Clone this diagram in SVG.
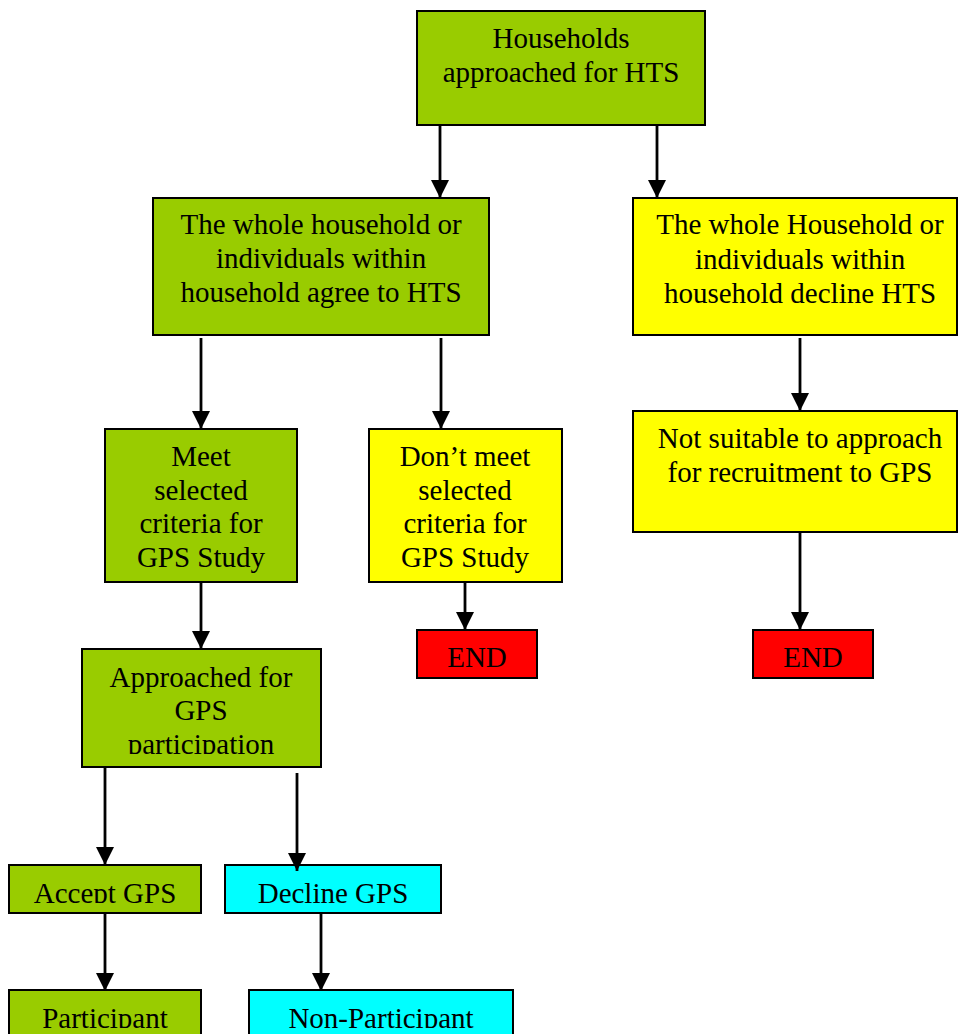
<svg xmlns="http://www.w3.org/2000/svg" width="958" height="1034" viewBox="0 0 958 1034">
<style>
.box{stroke:#000;stroke-width:2}
.g{fill:#99CC00}.y{fill:#FFFF00}.r{fill:#FF0000}.c{fill:#00FFFF}
text{font-family:"Liberation Serif","Times New Roman",serif;font-size:29px;fill:#000;text-anchor:middle}
.conn line{stroke:#000;stroke-width:2.8}
</style>
<defs>
<marker id="ah" markerUnits="userSpaceOnUse" markerWidth="19" markerHeight="18" refX="18" refY="9" orient="auto" viewBox="0 0 19 18">
<path d="M0,0 L18,9 L0,18 Z" fill="#000"/>
</marker>
<clipPath id="cpA"><rect x="0" y="860" width="958" height="43"/></clipPath>
<clipPath id="cpP"><rect x="0" y="985" width="958" height="43"/></clipPath>
<clipPath id="cpAp"><rect x="0" y="730" width="958" height="24"/></clipPath>
</defs>
<g id="n1"><rect class="box g" x="417" y="11" width="288" height="114"/>
<text x="561" y="48">Households</text><text x="561" y="82">approached for HTS</text></g>
<g id="n2"><rect class="box g" x="153" y="198" width="336" height="137"/>
<text x="321" y="234">The whole household or</text><text x="321" y="268">individuals within</text><text x="321" y="302">household agree to HTS</text></g>
<g id="n3"><rect class="box y" x="633" y="198" width="324" height="137"/>
<text x="800" y="234">The whole Household or</text><text x="800" y="269">individuals within</text><text x="800" y="303">household decline HTS</text></g>
<g id="n4"><rect class="box g" x="105" y="429" width="192" height="153"/>
<text x="201" y="466">Meet</text><text x="201" y="500">selected</text><text x="201" y="533">criteria for</text><text x="201" y="567">GPS Study</text></g>
<g id="n5"><rect class="box y" x="369" y="429" width="193" height="153"/>
<text x="465" y="466">Don’t meet</text><text x="465" y="500">selected</text><text x="465" y="533">criteria for</text><text x="465" y="567">GPS Study</text></g>
<g id="n6"><rect class="box y" x="633" y="411" width="324" height="121"/>
<text x="800" y="448">Not suitable to approach</text><text x="800" y="482">for recruitment to GPS</text></g>
<g id="n7"><rect class="box r" x="417" y="630" width="120" height="48"/>
<text x="477" y="667">END</text></g>
<g id="n8"><rect class="box r" x="753" y="630" width="120" height="48"/>
<text x="813" y="667">END</text></g>
<g id="n9"><rect class="box g" x="82" y="649" width="239" height="118"/>
<text x="201" y="687">Approached for</text><text x="201" y="720">GPS</text><text x="201" y="754" clip-path="url(#cpAp)">participation</text></g>
<g id="n10"><rect class="box g" x="9" y="865" width="192" height="48"/>
<text x="105" y="903" clip-path="url(#cpA)">Accept GPS</text></g>
<g id="n11"><rect class="box c" x="225" y="865" width="216" height="48"/>
<text x="333" y="903" clip-path="url(#cpA)">Decline GPS</text></g>
<g id="n12"><rect class="box g" x="9" y="990" width="192" height="60"/>
<text x="105" y="1028" clip-path="url(#cpP)">Participant</text></g>
<g id="n13"><rect class="box c" x="249" y="990" width="264" height="60"/>
<text x="381" y="1028" clip-path="url(#cpP)">Non-Participant</text></g>
<g class="conn" id="connectors">
<line x1="440" y1="125" x2="440" y2="198" marker-end="url(#ah)"/>
<line x1="657" y1="125" x2="657" y2="198" marker-end="url(#ah)"/>
<line x1="201" y1="338" x2="201" y2="429" marker-end="url(#ah)"/>
<line x1="441" y1="338" x2="441" y2="429" marker-end="url(#ah)"/>
<line x1="800" y1="338" x2="800" y2="411" marker-end="url(#ah)"/>
<line x1="465" y1="582" x2="465" y2="630" marker-end="url(#ah)"/>
<line x1="800" y1="533" x2="800" y2="630" marker-end="url(#ah)"/>
<line x1="201" y1="582" x2="201" y2="649" marker-end="url(#ah)"/>
<line x1="105" y1="767" x2="105" y2="865" marker-end="url(#ah)"/>
<line x1="297" y1="773" x2="297" y2="871" marker-end="url(#ah)"/>
<line x1="105" y1="913" x2="105" y2="991" marker-end="url(#ah)"/>
<line x1="321" y1="913" x2="321" y2="991" marker-end="url(#ah)"/>
</g>
</svg>
